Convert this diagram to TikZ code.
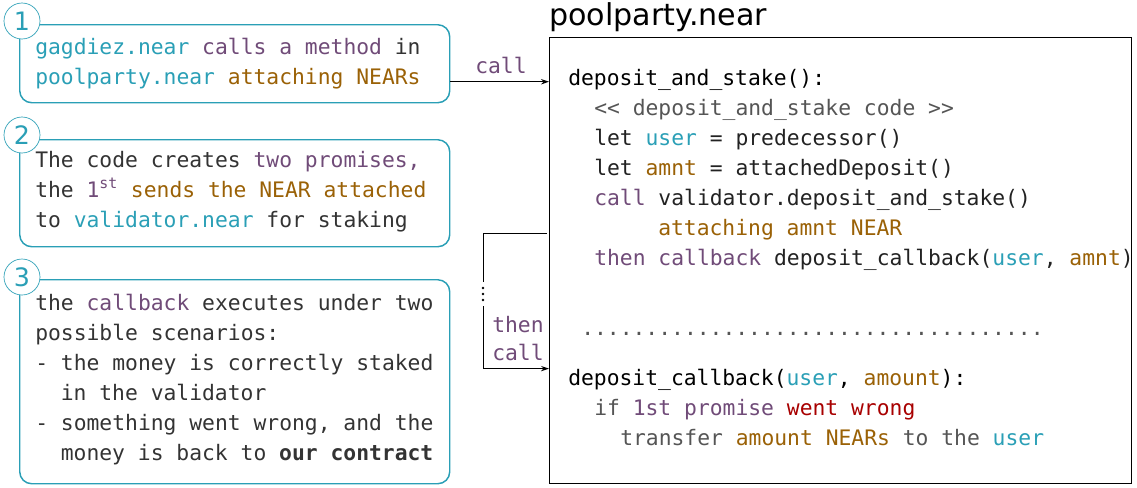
\documentclass[tikz,border=0pt]{standalone}
\usepackage{fontspec}
\setmainfont{DejaVu Sans}
\setmonofont{DejaVu Sans Mono}
\usetikzlibrary{arrows.meta}
\definecolor{cteal}{HTML}{2A9FB6}
\definecolor{cpurp}{HTML}{704B78}
\definecolor{cbrown}{HTML}{9A6106}
\definecolor{cred}{HTML}{A80000}
\definecolor{cdark}{HTML}{333333}
\definecolor{cgray}{HTML}{555555}
\definecolor{ccode}{HTML}{222222}
\begin{document}
\begin{tikzpicture}[x=0.75pt,y=-0.75pt,
  lbox/.style={draw=cteal, line width=1.1pt, rounded corners=9pt, anchor=north west, inner sep=0},
  numc/.style={circle, draw=cteal, line width=0.5pt, fill=white, minimum size=36*0.75pt, inner sep=0,
    font=\fontsize{19pt}{20pt}\selectfont, text=cteal},
  txt/.style={anchor=base west, inner sep=0, font=\ttfamily\fontsize{16pt}{20pt}\selectfont, text=cdark},
  code/.style={txt, text=ccode},
  arr/.style={line width=0.75pt, -{Stealth[length=6pt,width=4pt]}},
  conn/.style={line width=0.75pt}]
\useasboundingbox (0,0) rectangle (1137,487);
% left boxes
\node[lbox, minimum width=430*0.75pt, minimum height=78*0.75pt] (b1) at (19,24) {};
\node[lbox, minimum width=430*0.75pt, minimum height=107*0.75pt] (b2) at (19,139) {};
\node[lbox, minimum width=430*0.75pt, minimum height=204*0.75pt] (b3) at (19,279) {};
\node[numc] (n1) at (22,21) {1};
\node[numc] (n2) at (22,135) {2};
\node[numc] (n3) at (22,277) {3};
% box 1 text
\node[txt] (t11) at (35,54) {\textcolor{cteal}{gagdiez.near} \textcolor{cpurp}{calls a method} in};
\node[txt] (t12) at (35,84) {\textcolor{cteal}{poolparty.near} \textcolor{cbrown}{attaching NEARs}};
% box 2 text
\node[txt] (t21) at (35,167) {The code creates \textcolor{cpurp}{two promises,}};
\node[txt] (t22) at (35,197) {the \textcolor{cpurp}{1\textsuperscript{st}} \textcolor{cbrown}{sends the NEAR attached}};
\node[txt] (t23) at (35,227) {to \textcolor{cteal}{validator.near} for staking};
% box 3 text
\node[txt] (t31) at (35,310) {the \textcolor{cpurp}{callback} executes under two};
\node[txt] (t32) at (35,340) {possible scenarios:};
\node[txt] (t33) at (35,370) {- the money is correctly staked};
\node[txt] (t34) at (60.6,400) {in the validator};
\node[txt] (t35) at (35,430) {- something went wrong, and the};
\node[txt] (t36) at (60.6,460) {money is back to \textbf{our contract}};
% right box
\node[draw, line width=0.9pt, anchor=north west, inner sep=0, minimum width=582*0.75pt, minimum height=446*0.75pt] (pp) at (549,37) {};
\node[anchor=base west, inner sep=0, font=\fontsize{22.6pt}{26pt}\selectfont, text=black] (title) at (549,25) {poolparty.near};
\node[code, text=black] (r1) at (568,85) {deposit\_and\_stake():};
\node[code, text=cgray] (r2) at (594,115) {<< deposit\_and\_stake code >>};
\node[code] (r3) at (594,145) {let \textcolor{cteal}{user} = predecessor()};
\node[code] (r4) at (594,175) {let \textcolor{cbrown}{amnt} = attachedDeposit()};
\node[code] (r5) at (594,205) {\textcolor{cpurp}{call} validator.deposit\_and\_stake()};
\node[code, text=cbrown] (r6) at (658,235) {attaching amnt NEAR};
\node[code] (r7) at (594,265) {\textcolor{cpurp}{then callback} deposit\_callback(\textcolor{cteal}{user}, \textcolor{cbrown}{amnt})};
\node[code, text=cgray] (dots) at (581,335) {....................................};
\node[code, text=black] (r8) at (568,385) {deposit\_callback(\textcolor{cteal}{user}, \textcolor{cbrown}{amount}):};
\node[code, text=cgray] (r9) at (594,415) {if \textcolor{cpurp}{1st promise} \textcolor{cred}{went wrong}};
\node[code, text=cgray] (r10) at (620,445) {transfer \textcolor{cbrown}{amount NEARs} to the \textcolor{cteal}{user}};
% call arrow
\draw[arr] ([yshift=-18*0.75pt]b1.east) -- ([yshift=-18*0.75pt]b1.east -| pp.west);
\node[txt, text=cpurp] (lcall) at (475,73) {call};
% then call connector
\coordinate (v1) at (483,282);
\coordinate (v2) at (483,306);
\draw[conn] ([yshift=27*0.75pt, xshift=-2*0.75pt]pp.west) -| (v1);
\draw[arr] (v2) |- ([yshift=-108*0.75pt]pp.west);
\foreach \yy in {288,294,300} \fill (483,\yy) circle[radius=1.4*0.75pt];
\node[txt, text=cpurp] (lthen) at (492,332) {then};
\node[txt, text=cpurp] (lcall2) at (492,360) {call};
\end{tikzpicture}
\end{document}
